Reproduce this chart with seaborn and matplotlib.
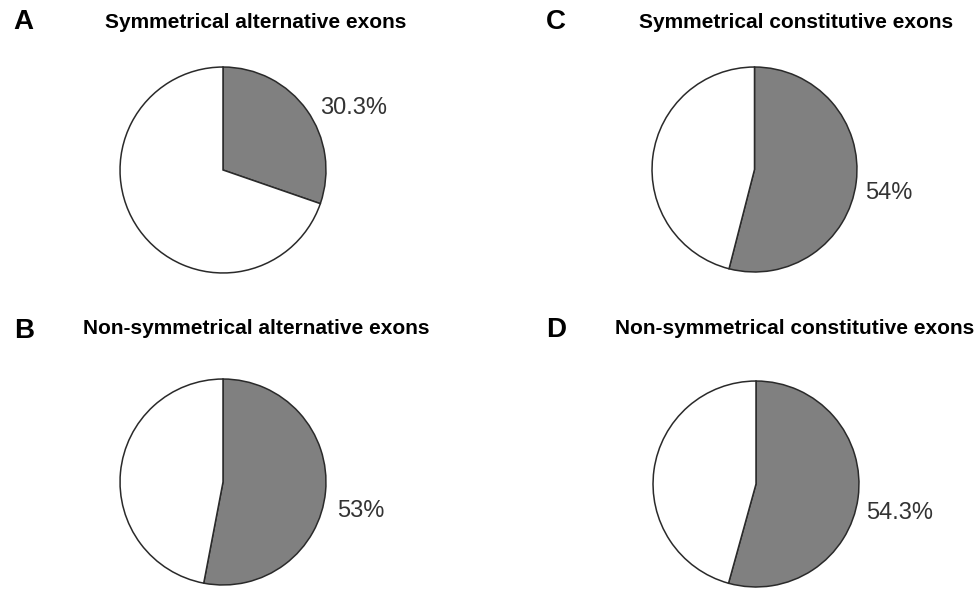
import matplotlib
matplotlib.use("Agg")
import matplotlib.pyplot as plt
import seaborn as sns

# ---- data ----
panel_letters = ["A", "B", "C", "D"]
titles = [
    "Symmetrical alternative exons",
    "Non-symmetrical alternative exons",
    "Symmetrical constitutive exons",
    "Non-symmetrical constitutive exons",
]
gray_share = [30.3, 53.0, 54.0, 54.3]
value_labels = ["30.3%", "53%", "54%", "54.3%"]

# ---- layout (pixels on a 976x592 canvas) ----
W, H = 976, 592
pie_boxes = [  # left, top, size
    (119, 66, 208),
    (119, 378, 208),
    (651, 66, 207),
    (652, 380, 208),
]
letter_pos = [(13, 22), (14, 331), (546, 22), (546, 330)]
title_pos = [(256, 22), (256, 329), (796, 22), (795, 329)]
label_pos = [(320, 108), (337, 511), (865, 193), (866, 513)]

sns.set_theme(style="white")
plt.rcParams["font.family"] = ["Liberation Sans", "DejaVu Sans"]

fig = plt.figure(figsize=(W / 100, H / 100), dpi=100)
fig.patch.set_facecolor("white")

for i in range(4):
    l, t, s = pie_boxes[i]
    ax = fig.add_axes([l / W, 1 - (t + s) / H, s / W, s / H])
    p = gray_share[i]
    ax.pie(
        [p, 100 - p],
        colors=["#808080", "#ffffff"],
        startangle=90,
        counterclock=False,
        radius=1.0,
        wedgeprops=dict(edgecolor="#2a2a2a", linewidth=1.1),
    )
    ax.set_xlim(-1.01, 1.01)
    ax.set_ylim(-1.01, 1.01)
    ax.set_aspect("equal")
    ax.axis("off")

    lx, ly = letter_pos[i]
    fig.text(lx / W, 1 - ly / H, panel_letters[i], fontsize=20, fontweight="heavy",
             ha="left", va="center", color="black")
    tx, ty = title_pos[i]
    fig.text(tx / W, 1 - ty / H, titles[i], fontsize=15, fontweight="bold",
             ha="center", va="center", color="black")
    vx, vy = label_pos[i]
    fig.text(vx / W, 1 - vy / H, value_labels[i], fontsize=17, fontweight="normal",
             ha="left", va="center", color="#333333")

fig.savefig("out.png", dpi=100, facecolor="white")
